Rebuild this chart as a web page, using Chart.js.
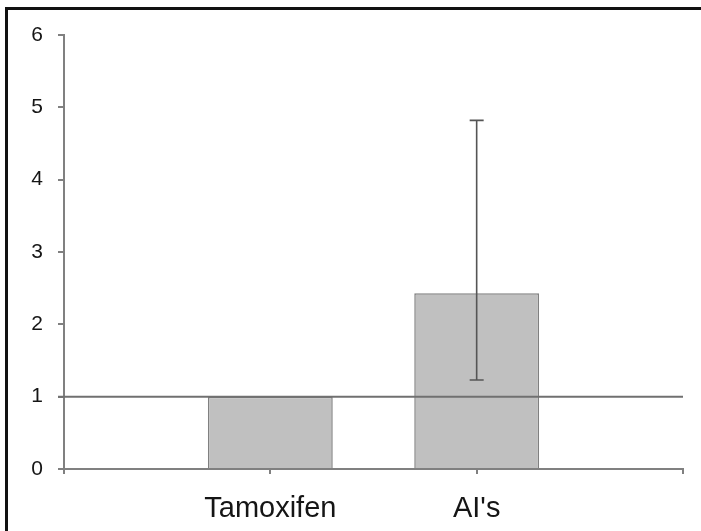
<!DOCTYPE html>
<html lang="en">
<head>
  <meta charset="UTF-8">
  <script src="https://cdn.jsdelivr.net/npm/chart.js"></script>
  <title>Tamoxifen vs AI's</title>
  <style>
    body { margin: 0; background: #fff; }
    #wrap { position: relative; width: 701px; height: 531px; }
    #frameTop { position: absolute; left: 5px; top: 7px; width: 696px; height: 3px; background: #111; }
    #frameLeft { position: absolute; left: 5px; top: 7px; width: 3px; height: 524px; background: #111; }
  </style>
</head>
<body>
  <div id="wrap">
    <canvas id="myChart" width="701" height="531"></canvas>
    <div id="frameTop"></div>
    <div id="frameLeft"></div>
  </div>

<script>
// categories (empty ones at the ends leave the white space either side)
var categorias = ['', 'Tamoxifen', "AI's", ''];
var valores = [null, 1.0, 2.43, null];
var erroMin = [null, null, 1.23, null];
var erroMax = [null, null, 4.82, null];
var linhaRef = 1;
var yTicks = [0, 1, 2, 3, 4, 5, 6];

// reference line at 1 and the error bar
const extras = {
  id: 'extras',
  afterDatasetsDraw(chart) {
    const ctx = chart.ctx;
    const x = chart.scales.x;
    const y = chart.scales.y;

    ctx.save();
    ctx.strokeStyle = '#707070';
    ctx.lineWidth = 2;
    ctx.beginPath();
    ctx.moveTo(x.left - 6, y.getPixelForValue(linhaRef));
    ctx.lineTo(x.right, y.getPixelForValue(linhaRef));
    ctx.stroke();

    ctx.strokeStyle = '#555';
    ctx.lineWidth = 1.6;
    for (let i = 0; i < categorias.length; i++) {
      if (erroMin[i] == null) continue;
      const cx = x.getPixelForValue(i);
      const y1 = y.getPixelForValue(erroMin[i]);
      const y2 = y.getPixelForValue(erroMax[i]);
      ctx.beginPath();
      ctx.moveTo(cx, y1);
      ctx.lineTo(cx, y2);
      ctx.moveTo(cx - 7, y1);
      ctx.lineTo(cx + 7, y1);
      ctx.moveTo(cx - 7, y2);
      ctx.lineTo(cx + 7, y2);
      ctx.stroke();
    }
    ctx.restore();
  }
};

const config = {
  type: 'bar',
  data: {
    labels: categorias,
    datasets: [{
      data: valores,
      backgroundColor: '#c0c0c0',
      borderColor: '#808080',
      borderWidth: 1.5,
      categoryPercentage: 1,
      barPercentage: 0.605
    }]
  },
  options: {
    responsive: false,
    animation: false,
    layout: { padding: { top: 35, right: 17, left: 0, bottom: 0 } },
    plugins: { legend: { display: false }, tooltip: { enabled: false } },
    scales: {
      x: {
        offset: false,
        grid: { offset: false, drawOnChartArea: false, drawTicks: true, tickLength: 5, color: '#808080', lineWidth: 2 },
        border: { color: '#808080', width: 2 },
        ticks: {
          color: '#151515',
          padding: 18,
          maxRotation: 0,
          autoSkip: false,
          font: { family: 'Liberation Sans', size: 29 }
        },
        afterFit(scale) { scale.height = 62; }
      },
      y: {
        min: yTicks[0],
        max: yTicks[yTicks.length - 1],
        grid: { drawOnChartArea: false, drawTicks: true, tickLength: 6, color: '#808080', lineWidth: 2 },
        border: { color: '#808080', width: 2 },
        afterBuildTicks(scale) { scale.ticks = yTicks.map(v => ({ value: v })); },
        ticks: {
          color: '#151515',
          padding: 15,
          font: { family: 'Liberation Sans', size: 21 }
        },
        afterFit(scale) { scale.width = 64; }
      }
    }
  },
  plugins: [extras]
};

let myChart = new Chart(document.getElementById('myChart'), config);
</script>
</body>
</html>
